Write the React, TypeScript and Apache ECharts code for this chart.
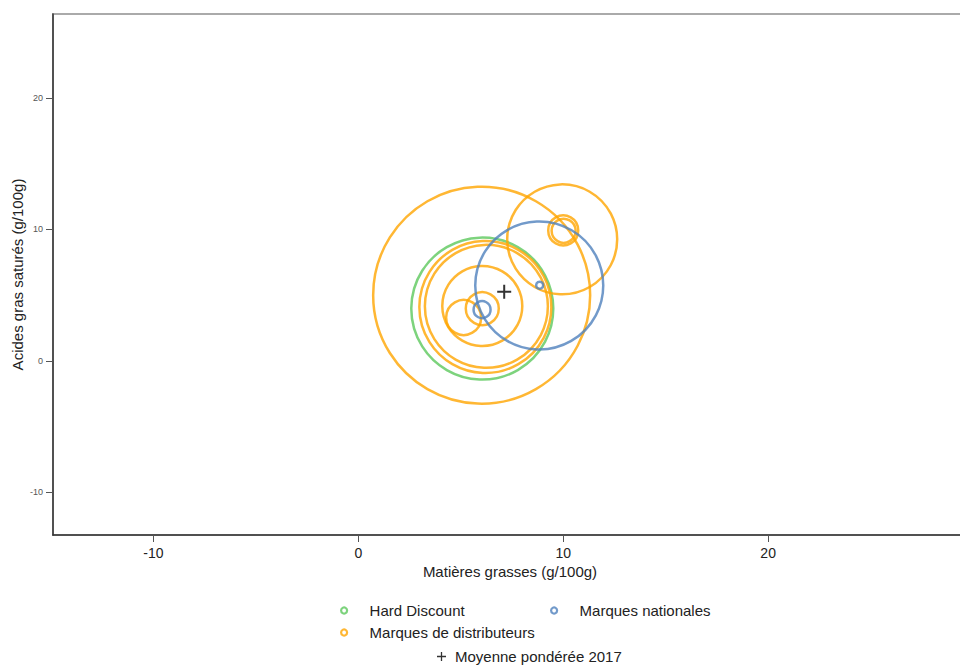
import React, { useEffect, useRef } from "react";
import * as echarts from "echarts";

// Hard Discount
const hdX = [6.05];
const hdY = [3.98];
const hdSize = [142];

// Marques de distributeurs
const mddX = [6.02, 9.95, 10.0, 10.02, 6.2, 6.25, 6.05, 6.05, 5.14];
const mddY = [5.0, 9.25, 9.93, 9.9, 4.1, 4.15, 4.18, 3.98, 3.3];
const mddSize = [217, 110, 30, 24, 132, 123, 80, 33, 35];

// Marques nationales
const mnX = [8.83, 8.85, 6.04];
const mnY = [5.74, 5.76, 3.9];
const mnSize = [128, 7, 17];

// Moyenne pondérée 2017
const moyX = [7.12];
const moyY = [5.27];

const xTicks = [-10, 0, 10, 20];
const yTicks = [-10, 0, 10, 20];

const GREEN = "#5cc85c";
const ORANGE = "#ffa500";
const BLUE = "#4f81bd";
const FONT = "Liberation Sans, Arial, sans-serif";
const PLUS = "path://M6,0H8V6H14V8H8V14H6V8H0V6H6Z";

const toData = (xs: number[], ys: number[], ss?: number[]) =>
  xs.map((x, i) => (ss ? [x, ys[i], ss[i]] : [x, ys[i]]));

export default function App() {
  const ref = useRef<HTMLDivElement>(null);
  useEffect(() => {
    if (!ref.current) return;
    const chart = echarts.init(ref.current, null, { renderer: "svg" });
    const ring = (name: string, color: string, xs: number[], ys: number[], ss: number[]) => ({
      name,
      type: "scatter",
      data: toData(xs, ys, ss),
      symbol: "circle",
      symbolSize: (v: number[]) => v[2],
      itemStyle: { color: "rgba(0,0,0,0)", borderColor: color, borderWidth: 2.5 },
      emphasis: { disabled: true },
      silent: true,
    });
    const legendItem = (name: string, color: string) => ({
      name,
      icon: "circle",
      itemStyle: { color: "#fff", borderColor: color, borderWidth: 2.2 },
    });
    const legendBase = {
      orient: "horizontal",
      padding: 0,
      itemWidth: 41,
      itemHeight: 6,
      selectedMode: false,
      textStyle: { fontFamily: FONT, fontSize: 15, color: "#222" },
    };
    chart.setOption({
      animation: false,
      backgroundColor: "#fff",
      textStyle: { fontFamily: FONT },
      grid: {
        left: 53,
        top: 14,
        right: -20,
        bottom: 134,
        containLabel: false,
        outerBoundsMode: "none",
        show: true,
        borderColor: "#aaaaaa",
        borderWidth: 2,
        backgroundColor: "transparent",
      },
      xAxis: {
        type: "value",
        min: -14.9,
        max: 30.34,
        name: "Matières grasses (g/100g)",
        nameLocation: "middle",
        nameGap: 29,
        nameMoveOverlap: false,
        nameTextStyle: { fontFamily: FONT, fontSize: 15, color: "#222", padding: [0, 13, 0, 0] },
        axisLine: { show: true, onZero: false, lineStyle: { color: "#333", width: 1.5 } },
        axisTick: { show: true, length: 7, lineStyle: { color: "#555" }, customValues: xTicks },
        axisLabel: { fontSize: 14, color: "#222", margin: 11, customValues: xTicks },
        splitLine: { show: false },
      },
      yAxis: {
        type: "value",
        min: -13.25,
        max: 26.4,
        name: "Acides gras saturés (g/100g)",
        nameLocation: "middle",
        nameGap: 28,
        nameMoveOverlap: false,
        nameTextStyle: { fontFamily: FONT, fontSize: 15, color: "#222" },
        axisLine: { show: true, onZero: false, lineStyle: { color: "#333", width: 1.5 } },
        axisTick: { show: true, length: 7, lineStyle: { color: "#555" }, customValues: yTicks },
        axisLabel: { fontSize: 9, color: "#555", margin: 10, customValues: yTicks },
        splitLine: { show: false },
      },
      legend: [
        { ...legendBase, left: 340, top: 603, data: [legendItem("Hard Discount", GREEN)] },
        { ...legendBase, left: 340, top: 625, data: [legendItem("Marques de distributeurs", ORANGE)] },
        { ...legendBase, left: 550, top: 603, data: [legendItem("Marques nationales", BLUE)] },
        {
          ...legendBase,
          left: 437,
          top: 649,
          itemWidth: 17,
          itemHeight: 9,
          data: [{ name: "Moyenne pondérée 2017", icon: PLUS, itemStyle: { color: "#000" } }],
        },
      ],
      series: [
        ring("Hard Discount", GREEN, hdX, hdY, hdSize),
        ring("Marques de distributeurs", ORANGE, mddX, mddY, mddSize),
        ring("Marques nationales", BLUE, mnX, mnY, mnSize),
        {
          name: "Moyenne pondérée 2017",
          type: "scatter",
          data: toData(moyX, moyY),
          symbol: PLUS,
          symbolSize: 14,
          itemStyle: { color: "#000" },
          emphasis: { disabled: true },
          silent: true,
        },
      ],
    });
    return () => chart.dispose();
  }, []);
  return <div ref={ref} style={{ width: 960, height: 669, position: "absolute", left: 0, top: 0 }} />;
}
